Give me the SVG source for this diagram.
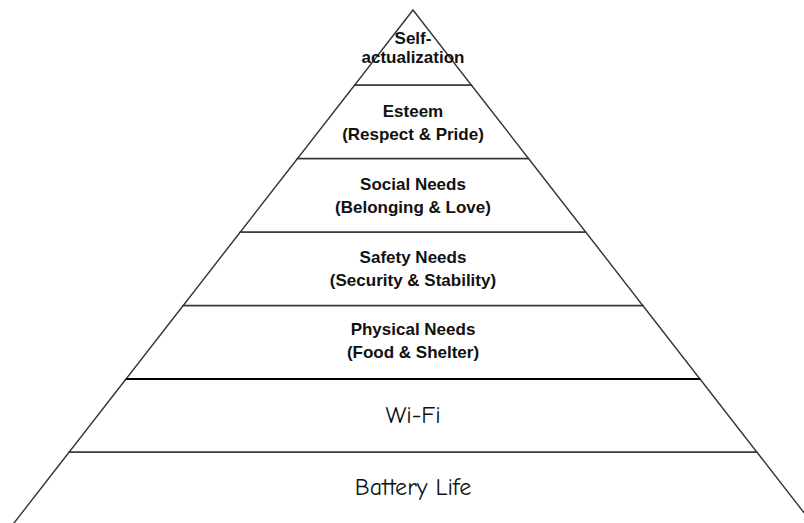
<svg xmlns="http://www.w3.org/2000/svg" width="804" height="523" viewBox="0 0 804 523">
<style>
.layer{fill:#ffffff;stroke:#333333;stroke-width:1.4;stroke-linejoin:miter}
.t{font-family:"Liberation Sans",Arial,sans-serif;font-weight:bold;font-size:17px;fill:#111111;text-anchor:middle}
.h{font-family:"Comic Sans MS","Comic Neue",cursive;font-size:24px;fill:#111111;text-anchor:middle}
</style>
<rect width="804" height="523" fill="#ffffff"/>
<g id="battery">
<polygon class="layer" points="69.2,452 756.8,452 818.2,531 7.8,531"/>
<text class="h" x="413" y="495">Battery Life</text>
</g>
<g id="wifi">
<polygon class="layer" points="126,379 700,379 756.8,452 69.2,452"/>
<text class="h" x="413" y="423">Wi-Fi</text>
</g>
<g id="physical">
<polygon class="layer" points="183.2,305.5 642.8,305.5 700,379 126,379"/>
<text class="t" x="413" y="335">Physical Needs</text>
<text class="t" x="413" y="358">(Food &amp; Shelter)</text>
</g>
<g id="safety">
<polygon class="layer" points="240.3,232 585.7,232 642.8,305.5 183.2,305.5"/>
<text class="t" x="413" y="263">Safety Needs</text>
<text class="t" x="413" y="286">(Security &amp; Stability)</text>
</g>
<g id="social">
<polygon class="layer" points="297.5,158.5 528.5,158.5 585.7,232 240.3,232"/>
<text class="t" x="413" y="190">Social Needs</text>
<text class="t" x="413" y="213">(Belonging &amp; Love)</text>
</g>
<g id="esteem">
<polygon class="layer" points="354.7,85 471.3,85 528.5,158.5 297.5,158.5"/>
<text class="t" x="413" y="117">Esteem</text>
<text class="t" x="413" y="140">(Respect &amp; Pride)</text>
</g>
<g id="self-actualization">
<polygon class="layer" points="413,10 471.3,85 354.7,85"/>
<text class="t" x="413" y="44">Self-</text>
<text class="t" x="413" y="63">actualization</text>
</g>
<line x1="126" y1="379" x2="700" y2="379" stroke="#000000" stroke-width="2.2"/>
</svg>
